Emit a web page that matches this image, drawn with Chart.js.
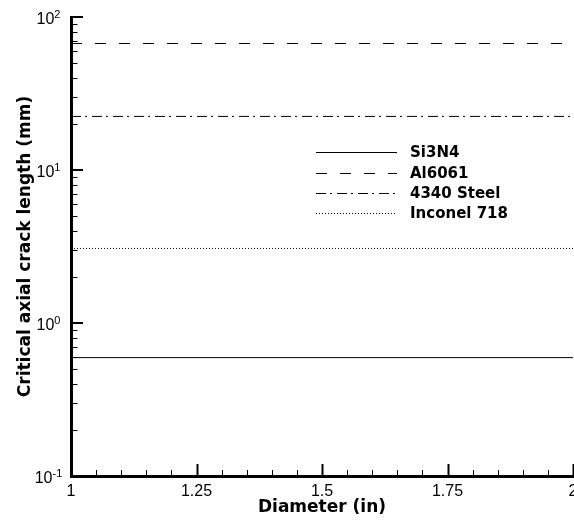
<!DOCTYPE html>
<html>
<head>
<meta charset="utf-8">
<script src="https://cdn.jsdelivr.net/npm/chart.js@4"></script>
<style>
  html, body { margin: 0; padding: 0; background: #fff; }
  #wrap { width: 574px; height: 522px; position: relative; }
</style>
</head>
<body>
<div id="wrap"><canvas id="crackChart"></canvas></div>
<script>
const FONT = '"Liberation Sans", Arial, Helvetica, sans-serif';
const BOLD_FONT = '"DejaVu Sans", "Liberation Sans", sans-serif';

// data
const diameters = [1, 2];
const si3n4 = [0.594, 0.594];
const al6061 = [67.1, 67.1];
const steel4340 = [22.4, 22.4];
const inconel718 = [3.07, 3.07];
const seriesNames = ['Si3N4', 'Al6061', '4340 Steel', 'Inconel 718'];
const xTicks = [1, 1.25, 1.5, 1.75, 2];
const yDecades = [-1, 0, 1, 2];

function pts(vals) {
  return diameters.map((d, i) => ({ x: d, y: vals[i] }));
}

// draws inward ticks, superscript decade labels and the legend box
const tecplotLook = {
  id: 'tecplotLook',
  afterDraw(chart) {
    const ctx = chart.ctx;
    const xs = chart.scales.x;
    const ys = chart.scales.y;
    const left = xs.getPixelForValue(1);
    const bottom = ys.getPixelForValue(0.1);
    ctx.save();
    ctx.strokeStyle = '#000';

    // y ticks
    yDecades.forEach((e) => {
      const base = Math.pow(10, e);
      let py = ys.getPixelForValue(base);
      ctx.lineWidth = 2;
      ctx.beginPath();
      ctx.moveTo(left, py);
      ctx.lineTo(left + 12, py);
      ctx.stroke();
      if (e < 2) {
        ctx.lineWidth = 1;
        for (let m = 2; m <= 9; m++) {
          py = Math.round(ys.getPixelForValue(base * m)) + 0.5;
          ctx.beginPath();
          ctx.moveTo(left, py);
          ctx.lineTo(left + 6.5, py);
          ctx.stroke();
        }
      }
      // label 10^e
      const ly = ys.getPixelForValue(base);
      const exp = String(e);
      ctx.fillStyle = '#000';
      ctx.textBaseline = 'alphabetic';
      ctx.font = '16px ' + FONT;
      const wBase = ctx.measureText('10').width;
      ctx.font = '11px ' + FONT;
      const wExp = ctx.measureText(exp).width;
      const x0 = 48.5 - (wBase + wExp) / 2;
      ctx.font = '16px ' + FONT;
      ctx.textAlign = 'left';
      ctx.fillText('10', x0, ly + 6.5);
      ctx.font = '11px ' + FONT;
      ctx.fillText(exp, x0 + wBase, ly + 0.5);
    });

    // x ticks
    for (let i = 0; i <= 20; i++) {
      const v = 1 + i * 0.05;
      const px = Math.round(xs.getPixelForValue(v)) + 0.5;
      const major = i % 5 === 0;
      ctx.lineWidth = major ? 2 : 1;
      ctx.beginPath();
      ctx.moveTo(px, bottom);
      ctx.lineTo(px, bottom - (major ? 12 : 6));
      ctx.stroke();
    }

    // legend
    const rowsY = [152, 173, 193, 213];
    chart.data.datasets.forEach((ds, i) => {
      const y = rowsY[i] + 0.5;
      ctx.lineWidth = 1;
      ctx.strokeStyle = ds.borderColor;
      ctx.setLineDash(ds.borderDash || []);
      ctx.beginPath();
      ctx.moveTo(316, y);
      ctx.lineTo(397, y);
      ctx.stroke();
      ctx.setLineDash([]);
      ctx.fillStyle = '#000';
      ctx.font = 'bold 15px ' + BOLD_FONT;
      ctx.textAlign = 'left';
      ctx.textBaseline = 'middle';
      ctx.fillText(ds.label, 410, rowsY[i] + 1);
    });
    ctx.restore();
  }
};

const ctx = document.getElementById('crackChart');
new Chart(ctx, {
  type: 'line',
  data: {
    datasets: [
      { label: seriesNames[0], data: pts(si3n4), borderColor: '#000', borderWidth: 1, borderDash: [] },
      { label: seriesNames[1], data: pts(al6061), borderColor: '#000', borderWidth: 1, borderDash: [11, 13] },
      { label: seriesNames[2], data: pts(steel4340), borderColor: '#000', borderWidth: 1, borderDash: [10, 4, 2, 5] },
      { label: seriesNames[3], data: pts(inconel718), borderColor: '#000', borderWidth: 1, borderDash: [1, 2] },
    ],
  },
  options: {
    responsive: true,
    maintainAspectRatio: false,
    animation: false,
    events: [],
    layout: { padding: { top: 17, right: 1, left: 0, bottom: 0 } },
    elements: { point: { radius: 0 } },
    plugins: {
      legend: { display: false },
      tooltip: { enabled: false },
    },
    scales: {
      x: {
        type: 'linear',
        min: 1,
        max: 2,
        afterBuildTicks: (s) => { s.ticks = xTicks.map((v) => ({ value: v })); },
        afterFit: (s) => {
          s.height = 46;
          s.paddingLeft = 0;
          s.paddingRight = 0;
        },
        grid: { display: false, drawTicks: false },
        border: { display: true, color: '#000', width: 3 },
        ticks: {
          color: '#000',
          font: { family: FONT, size: 16 },
          padding: 6,
          maxRotation: 0,
          autoSkip: false,
          callback: (v) => String(v),
        },
        title: {
          display: true,
          text: 'Diameter (in)',
          color: '#000',
          font: { family: BOLD_FONT, size: 17, weight: 'bold' },
          padding: { top: 0, bottom: 4 },
        },
      },
      y: {
        type: 'logarithmic',
        min: 0.1,
        max: 100,
        afterFit: (s) => {
          s.width = 71;
          s.paddingTop = 0;
          s.paddingBottom = 0;
        },
        grid: { display: false, drawTicks: false },
        border: { display: true, color: '#000', width: 3 },
        ticks: { display: false },
        title: {
          display: true,
          text: 'Critical axial crack length (mm)',
          color: '#000',
          font: { family: BOLD_FONT, size: 17, weight: 'bold' },
          padding: { top: 15, bottom: 0 },
        },
      },
    },
  },
  plugins: [tecplotLook],
});
</script>
</body>
</html>
